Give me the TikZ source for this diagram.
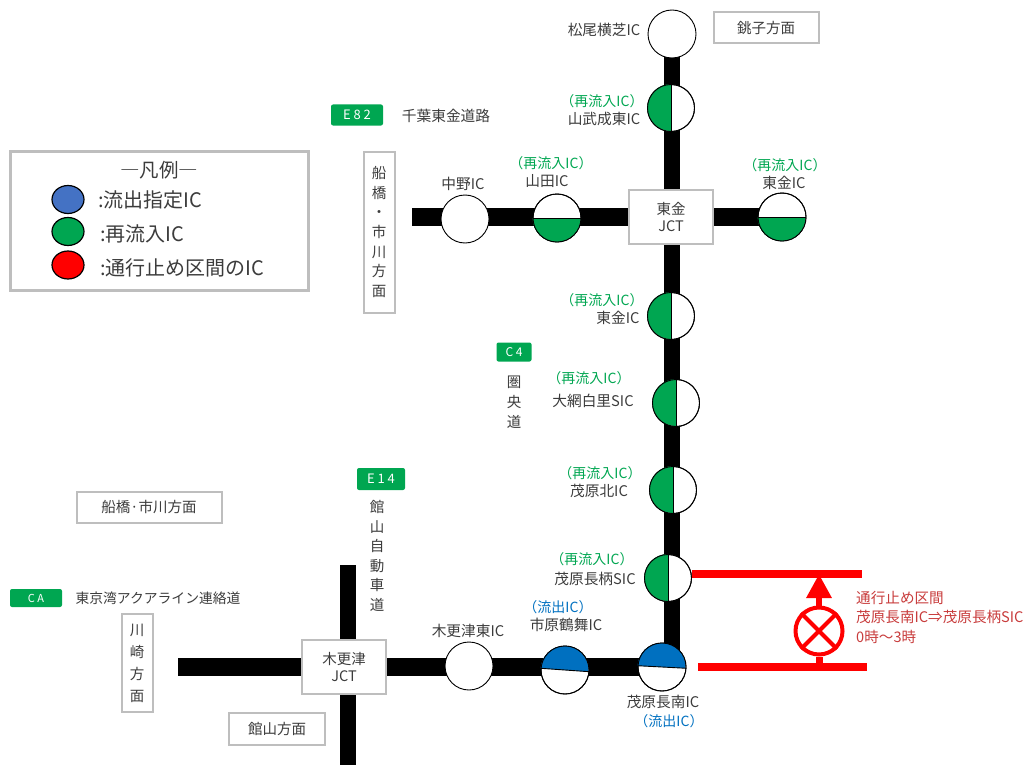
\documentclass[tikz,border=0pt]{standalone}
\usepackage{fontspec}
\setmainfont{Noto Sans CJK JP}
\usetikzlibrary{backgrounds,arrows.meta,shapes.geometric,calc}
\definecolor{kusa}{RGB}{0,166,81}
\definecolor{ao}{RGB}{0,112,192}
\definecolor{legao}{RGB}{68,114,196}
\definecolor{sumi}{RGB}{60,60,60}
\definecolor{waku}{RGB}{190,190,190}
\definecolor{aka}{RGB}{255,0,0}
\definecolor{akamoji}{RGB}{200,60,60}
\tikzset{
  ic/.style={circle,draw=black,fill=white,line width=0.9pt,minimum size=#1,inner sep=0pt},
  ic/.default=47pt,
  road/.style={line width=16pt,black},
  roadh/.style={line width=18pt,black},
  jct/.style={draw=waku,fill=white,line width=2.2pt,minimum width=84pt,minimum height=54pt,align=center,font=\fontsize{14.5}{17}\selectfont,text=sumi,inner sep=0pt},
  hoko/.style={draw=waku,fill=white,line width=2pt,align=center,inner sep=0pt,text=sumi,font=\fontsize{14.5}{19.7}\selectfont},
  tag/.style={fill=kusa,rounded corners=2pt,text=white,inner sep=0pt,font=\fontsize{13}{15}\selectfont},
  lab/.style={align=center,text=sumi,inner sep=0pt,font=\fontsize{14.7}{17}\selectfont},
  glab/.style={text=kusa,inner sep=0pt,font=\fontsize{14}{16}\selectfont},
  blab/.style={text=ao,inner sep=0pt,font=\fontsize{14}{16}\selectfont},
  redbar/.style={line width=8pt,aka},
  legic/.style={ellipse,draw=black,line width=1.2pt,minimum width=32pt,minimum height=28pt,inner sep=0pt},
  legtxt/.style={anchor=west,text=sumi,inner sep=0pt,font=\fontsize{20}{22}\selectfont}
}
\begin{document}
\begin{tikzpicture}[x=1pt,y=-1pt]
\useasboundingbox (0,0) rectangle (1024,765);

% legend
\node[draw=waku,line width=3pt,minimum width=298pt,minimum height=139pt,inner sep=0pt] (legend) at (159,220.5) {};
\node[text=sumi,inner sep=0pt,font=\fontsize{19.5}{21}\selectfont] (legtitle) at (159,170) {―凡例―};
\node[legic,fill=legao] (legblue) at (68,199.5) {};
\node[legic,fill=kusa] (leggreen) at (68,231.5) {};
\node[legic,fill=aka] (legred) at (68,265) {};
\node[legtxt] (legbluet) at (98,200) {:流出指定IC};
\node[legtxt] (leggreent) at (100,234) {:再流入IC};
\node[legtxt] (legredt) at (100,268) {:通行止め区間のIC};

% junctions and interchanges
\node[jct] (togane) at (671,217) {東金\\JCT};
\node[jct] (kisarazu) at (344,667) {木更津\\JCT};
\node[ic=48pt] (matsuo) at (672,34) {};
\node[ic] (yamatake) at (671,108) {};
\node[ic=48pt] (toganee) at (782,217) {};
\node[ic=48pt] (yamada) at (557,218) {};
\node[ic=48pt] (nakano) at (465,219) {};
\node[ic] (toganes) at (671,316) {};
\node[ic] (oami) at (676,403) {};
\node[ic] (mobarak) at (673,490) {};
\node[ic] (nagara) at (668,578) {};
\node[ic=48pt] (chonan) at (662,667) {};
\node[ic=48pt] (tsurumai) at (565,670) {};
\node[ic=48pt] (higashi) at (469,666) {};
\coordinate (nakanoend) at (412,217);
\coordinate (kisawest) at (178,667);
\coordinate (tatenorth) at (348,565);
\coordinate (tatesouth) at (348,765);

\begin{scope}[on background layer]
\draw[road] (matsuo.center) -- (matsuo |- chonan);
\draw[roadh] (nakanoend) -- (nakanoend -| toganee);
\draw[roadh] (kisawest) -- (kisawest -| chonan);
\draw[road] (tatenorth) -- (tatesouth);
\end{scope}

% half fills
\foreach \n in {yamatake,toganes,oami,mobarak,nagara}{
  \fill[kusa] (\n.north) arc[start angle=90,delta angle=180,radius=23.5pt] -- cycle;
  \draw[line width=0.9pt] (\n.north) -- (\n.south);
  \draw[line width=0.9pt] (\n) circle[radius=23.5pt];
}
\foreach \n in {toganee,yamada}{
  \fill[kusa] (\n.west) arc[start angle=180,delta angle=180,radius=24pt] -- cycle;
  \draw[line width=0.9pt] (\n.west) -- (\n.east);
  \draw[line width=0.9pt] (\n) circle[radius=24pt];
}
\foreach \n/\a in {tsurumai/176,chonan/177}{
  \fill[ao] (\n.\a) arc[start angle=\a,delta angle=-180,radius=24pt] -- cycle;
  \draw[line width=0.9pt] (\n.\a) -- ($(\n)!-1!(\n.\a)$);
  \draw[line width=0.9pt] (\n) circle[radius=24pt];
}

% labels
\node[lab] (matsuot) at (604,30) {松尾横芝IC};
\node[glab] (yamatakeg) at (602,101) {（再流入IC）};
\node[lab] (yamataket) at (604,119) {山武成東IC};
\node[glab] (yamadag) at (551,163) {（再流入IC）};
\node[lab] (yamadat) at (547,181) {山田IC};
\node[lab] (nakanot) at (463,184) {中野IC};
\node[glab] (toganeeg) at (785,165) {（再流入IC）};
\node[lab] (toganeet) at (784,183) {東金IC};
\node[glab] (togansg) at (602,300) {（再流入IC）};
\node[lab] (toganst) at (618,318) {東金IC};
\node[glab] (oamig) at (589,378) {（再流入IC）};
\node[lab] (oamit) at (593,401) {大網白里SIC};
\node[glab] (mobarakg) at (600,473) {（再流入IC）};
\node[lab] (mobarakt) at (599,491) {茂原北IC};
\node[glab] (nagarag) at (592,559) {（再流入IC）};
\node[lab] (nagarat) at (595,579) {茂原長柄SIC};
\node[blab] (tsurumaig) at (558,607) {（流出IC）};
\node[lab] (tsurumait) at (566,625) {市原鶴舞IC};
\node[lab] (higashit) at (468,631) {木更津東IC};
\node[lab] (chonant) at (663,702) {茂原長南IC};
\node[blab] (chonang) at (669,721) {（流出IC）};

% route tags
\node[tag,minimum width=52pt,minimum height=21pt] (e82) at (357,115) {E 8 2};
\node[lab] (e82t) at (446,116) {千葉東金道路};
\node[tag,minimum width=35pt,minimum height=19pt,font=\fontsize{12}{14}\selectfont] (c4) at (514,352) {C 4};
\node[lab,font=\fontsize{14.5}{20}\selectfont] (c4t) at (514,402) {圏\\央\\道};
\node[tag,minimum width=48pt,minimum height=22pt] (e14) at (381,479) {E 1 4};
\node[lab,font=\fontsize{14.5}{19.5}\selectfont] (e14t) at (377,556) {館\\山\\自\\動\\車\\道};
\node[tag,minimum width=52pt,minimum height=18pt,font=\fontsize{11}{13}\selectfont] (ca) at (36,598) {C A};
\node[lab,font=\fontsize{13.8}{16}\selectfont] (cat) at (158,598) {東京湾アクアライン連絡道};

% direction boxes
\node[hoko,minimum width=105pt,minimum height=31pt] (choshi) at (766,28) {銚子方面};
\node[hoko,minimum width=31pt,minimum height=161pt] (funav) at (379,232) {船\\橋\\・\\市\\川\\方\\面};
\node[hoko,minimum width=145pt,minimum height=31pt] (funah) at (149,507) {船橋·市川方面};
\node[hoko,minimum width=31pt,minimum height=98pt,font=\fontsize{14.5}{22}\selectfont] (kawa) at (137,663) {川\\崎\\方\\面};
\node[hoko,minimum width=96pt,minimum height=32pt] (tate) at (277,729) {館山方面};

% closed section
\node[circle,draw=aka,line width=4pt,minimum size=47pt,inner sep=0pt] (stop) at (819,631) {};
\coordinate (bartopw) at (692,574);
\coordinate (bartope) at (862,574);
\coordinate (barbotw) at (698,667);
\coordinate (barbote) at (867,667);
\draw[redbar] (bartopw) -- (bartope);
\draw[redbar] (barbotw) -- (barbote);
\draw[aka,line width=4pt] (stop.45) -- (stop.225);
\draw[aka,line width=4pt] (stop.135) -- (stop.-45);
\draw[aka,line width=7pt] (stop.south) -- (stop.south |- barbotw);
\draw[aka,line width=6pt,-{Triangle[length=24pt,width=24pt]}] (stop.north) -- (stop.north |- bartopw);
\node[anchor=west,align=left,text=akamoji,inner sep=0pt,font=\fontsize{14.6}{19.5}\selectfont] (stopt) at (856,617) {通行止め区間\\茂原長南IC⇒茂原長柄SIC\\0時～3時};
\end{tikzpicture}
\end{document}
